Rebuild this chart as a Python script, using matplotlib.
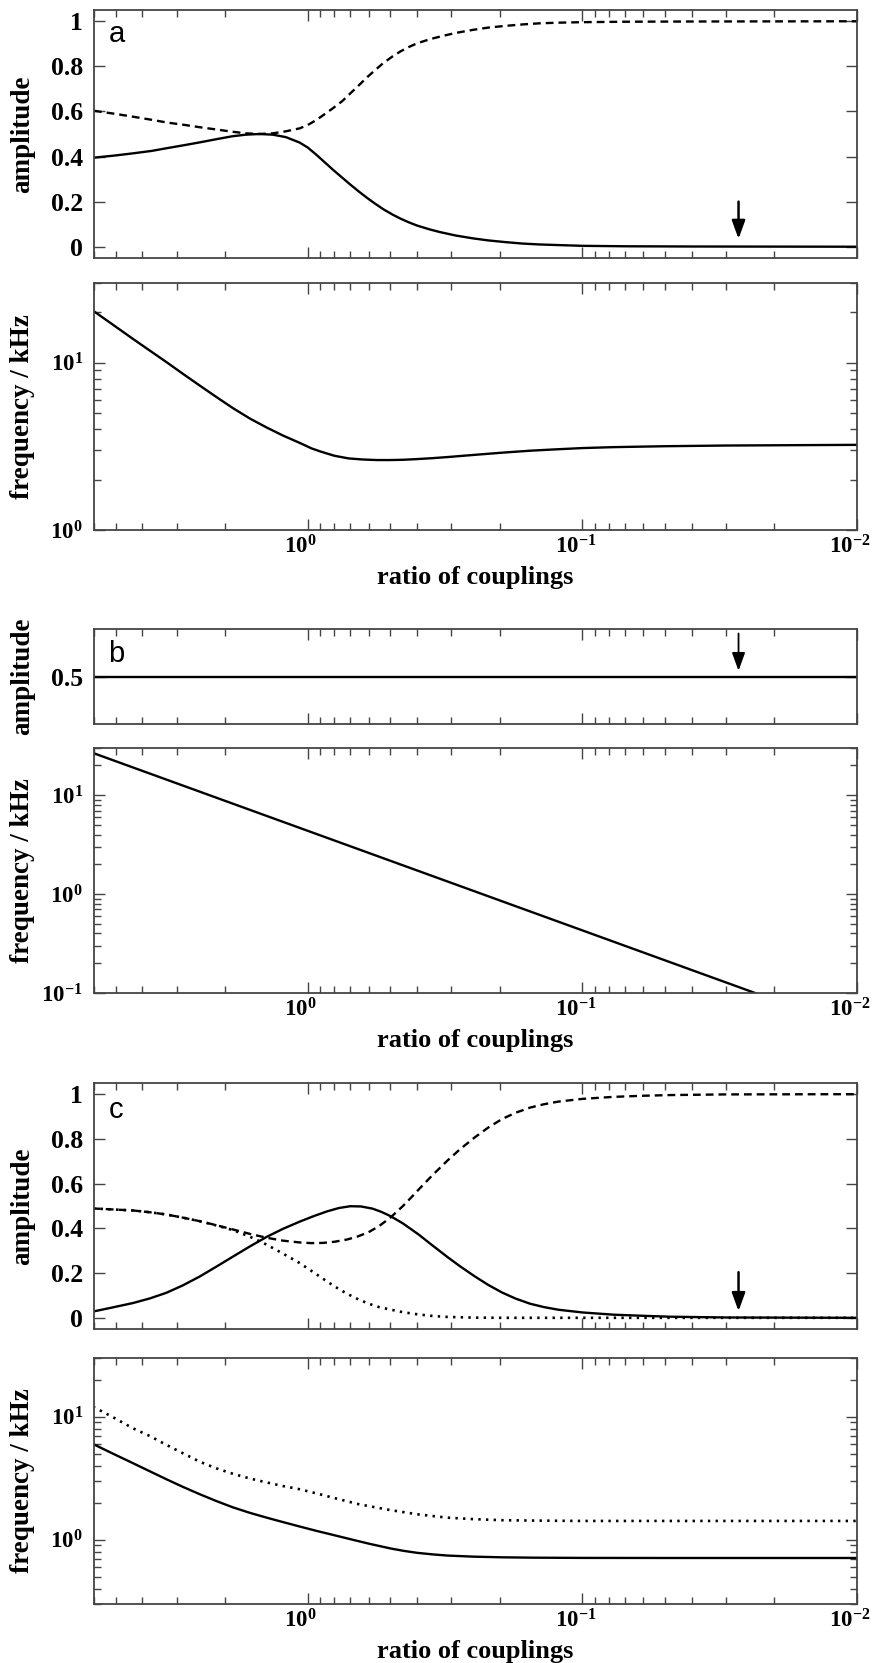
import numpy as np
import matplotlib
matplotlib.use("Agg")
import matplotlib.pyplot as plt
from matplotlib.ticker import FixedLocator, FuncFormatter, LogLocator, NullFormatter
from matplotlib.transforms import ScaledTranslation

plt.rcParams["font.family"] = ["Liberation Serif", "DejaVu Serif"]
plt.rcParams["font.weight"] = "bold"
plt.rcParams["mathtext.fontset"] = "custom"
plt.rcParams["mathtext.rm"] = "Liberation Serif:bold"
plt.rcParams["mathtext.bf"] = "Liberation Serif:bold"
plt.rcParams["mathtext.it"] = "Liberation Serif:bold"

# ============================================================
# Data
# ============================================================

# panel a - amplitudes
A_X = [6.0, 5.0, 4.34, 3.7, 3.26, 2.8, 2.47, 2.15, 1.88, 1.68, 1.5, 1.34, 1.2,
       1.07, 1.0, 0.93, 0.87, 0.81, 0.75, 0.70, 0.65, 0.61, 0.57, 0.53, 0.49,
       0.46, 0.43, 0.40, 0.36, 0.33, 0.29, 0.25, 0.22, 0.189, 0.165, 0.143,
       0.12, 0.1, 0.07, 0.04, 0.01]
A_SOLID = [0.395, 0.405, 0.414, 0.425, 0.437, 0.451, 0.463, 0.477, 0.49, 0.497,
           0.5, 0.497, 0.486, 0.462, 0.440, 0.408, 0.376, 0.342, 0.307, 0.276,
           0.244, 0.218, 0.192, 0.166, 0.142, 0.125, 0.109, 0.094, 0.077,
           0.065, 0.05, 0.037, 0.028, 0.02, 0.014, 0.01, 0.007, 0.004, 0.002,
           0.001, 0.0]
A_DASHED = [0.603, 0.589, 0.577, 0.563, 0.551, 0.54, 0.53, 0.52, 0.51, 0.503,
            0.5, 0.503, 0.512, 0.525, 0.54, 0.562, 0.587, 0.614, 0.645, 0.68,
            0.717, 0.75, 0.782, 0.815, 0.845, 0.866, 0.885, 0.902, 0.92, 0.932,
            0.948, 0.962, 0.972, 0.98, 0.986, 0.991, 0.994, 0.996, 0.998,
            0.999, 1.0]

# panel a - frequency
AF_X = [6.05, 5.2, 4.33, 3.75, 3.27, 2.85, 2.47, 2.15, 1.87, 1.62, 1.41, 1.23,
        1.07, 0.97, 0.9, 0.8, 0.71, 0.63, 0.56, 0.5, 0.45, 0.4, 0.35, 0.31,
        0.25, 0.196, 0.155, 0.123, 0.1, 0.077, 0.05, 0.03, 0.01]
AF = [20.5, 17.2, 13.9, 11.8, 10.1, 8.6, 7.3, 6.24, 5.35, 4.63, 4.1, 3.67,
      3.32, 3.08, 2.95, 2.78, 2.68, 2.64, 2.62, 2.62, 2.63, 2.655, 2.69, 2.73,
      2.81, 2.9, 2.98, 3.04, 3.09, 3.13, 3.17, 3.2, 3.23]

# panel b
B_AMP_X = [6.0, 0.01]
B_AMP = [0.5, 0.5]
B_X = [6.0, 0.0235]
B_F = [26.5, 0.1]

# panel c - amplitudes
C_SOLID_X = [6.05, 5.2, 4.33, 3.75, 3.27, 2.85, 2.47, 2.15, 1.87, 1.62, 1.41,
             1.23, 1.07, 0.95, 0.85, 0.77, 0.70, 0.64, 0.58, 0.54, 0.5, 0.45,
             0.395, 0.35, 0.31, 0.28, 0.247, 0.22, 0.196, 0.175, 0.155, 0.138,
             0.122, 0.1, 0.077, 0.06, 0.048, 0.03, 0.01]
C_SOLID = [0.028, 0.045, 0.066, 0.087, 0.112, 0.145, 0.185, 0.229, 0.274, 0.32,
           0.362, 0.398, 0.43, 0.455, 0.476, 0.491, 0.499, 0.498, 0.488, 0.474,
           0.455, 0.422, 0.373, 0.322, 0.272, 0.232, 0.186, 0.147, 0.113,
           0.086, 0.063, 0.048, 0.036, 0.024, 0.014, 0.009, 0.005, 0.0015, 0.0]
C_DASHED_X = [6.05, 5.2, 4.33, 3.75, 3.27, 2.85, 2.47, 2.15, 1.87, 1.62, 1.41,
              1.23, 1.07, 0.97, 0.88, 0.8, 0.72, 0.66, 0.6, 0.55, 0.5, 0.45,
              0.42, 0.395, 0.35, 0.31, 0.28, 0.247, 0.22, 0.196, 0.175, 0.155,
              0.138, 0.122, 0.1, 0.077, 0.06, 0.048, 0.03, 0.01]
C_DASHED = [0.489, 0.485, 0.48, 0.472, 0.462, 0.448, 0.432, 0.414, 0.395,
            0.375, 0.358, 0.345, 0.337, 0.334, 0.335, 0.34, 0.35, 0.363,
            0.383, 0.41, 0.448, 0.5, 0.538, 0.573, 0.64, 0.703, 0.752, 0.806,
            0.851, 0.889, 0.917, 0.94, 0.955, 0.967, 0.979, 0.988, 0.993,
            0.996, 0.999, 1.0]
C_DOTTED_X = [6.05, 5.2, 4.33, 3.75, 3.27, 2.85, 2.47, 2.15, 1.87, 1.62, 1.41,
              1.23, 1.07, 0.97, 0.88, 0.8, 0.72, 0.66, 0.6, 0.55, 0.5, 0.45,
              0.395, 0.35, 0.31, 0.25, 0.2, 0.01]
C_DOTTED = [0.489, 0.485, 0.48, 0.472, 0.462, 0.448, 0.432, 0.413, 0.392,
            0.362, 0.327, 0.287, 0.245, 0.21, 0.175, 0.141, 0.108, 0.085,
            0.063, 0.048, 0.037, 0.025, 0.015, 0.008, 0.004, 0.001, 0.0, 0.0]

# panel c - frequencies
CF_SOLID_X = [6.05, 5.2, 4.33, 3.75, 3.27, 2.85, 2.47, 2.15, 1.87, 1.62, 1.41,
              1.23, 1.07, 0.93, 0.8, 0.7, 0.6, 0.5, 0.45, 0.4, 0.35, 0.31,
              0.25, 0.196, 0.15, 0.1, 0.05, 0.01]
CF_SOLID = [6.0, 5.09, 4.19, 3.59, 3.1, 2.69, 2.34, 2.06, 1.83, 1.65, 1.51,
            1.39, 1.28, 1.18, 1.087, 1.01, 0.929, 0.849, 0.813, 0.782, 0.759,
            0.743, 0.728, 0.719, 0.714, 0.711, 0.71, 0.71]
CF_DOTTED_X = [6.05, 5.2, 4.33, 3.75, 3.27, 2.85, 2.47, 2.15, 1.87, 1.62, 1.41,
               1.23, 1.07, 0.93, 0.8, 0.65, 0.5, 0.4, 0.31, 0.25, 0.196, 0.15,
               0.1, 0.01]
CF_DOTTED = [12.05, 10.1, 8.05, 6.95, 5.9, 5.05, 4.3, 3.8, 3.43, 3.14, 2.92,
             2.73, 2.57, 2.38, 2.18, 1.94, 1.74, 1.61, 1.51, 1.47, 1.44, 1.43,
             1.42, 1.42]

ARROW_X = 0.027

# ============================================================
# Layout helpers
# ============================================================

W, H = 875, 1663
LEFT, RIGHT = 94, 857
FRAME = "#444444"
LW = 1.7


def add_panel(fig, top, bottom):
    return fig.add_axes([LEFT / W, 1 - bottom / H, (RIGHT - LEFT) / W, (bottom - top) / H])


def pow_label(v, pos):
    return r"$10^{%d}$" % int(round(np.log10(v)))


def style_axes(fig, ax, show_xlabels, log_y=False):
    ax.set_xscale("log")
    ax.set_xlim(6.0, 0.01)
    ax.xaxis.set_major_locator(FixedLocator([1.0, 0.1, 0.01]))
    ax.xaxis.set_minor_locator(LogLocator(base=10, subs=np.arange(2, 10), numticks=30))
    ax.xaxis.set_minor_formatter(NullFormatter())
    if show_xlabels:
        ax.xaxis.set_major_formatter(FuncFormatter(pow_label))
    else:
        ax.xaxis.set_major_formatter(NullFormatter())
    if log_y:
        ax.set_yscale("log")
        ax.yaxis.set_major_locator(LogLocator(base=10, numticks=30))
        ax.yaxis.set_minor_locator(LogLocator(base=10, subs=np.arange(2, 10), numticks=30))
        ax.yaxis.set_minor_formatter(NullFormatter())
        ax.yaxis.set_major_formatter(FuncFormatter(pow_label))
    ax.tick_params(which="both", direction="in", top=True, right=True,
                   color=FRAME, width=1.0)
    ax.tick_params(which="major", length=8)
    ax.tick_params(which="minor", length=5)
    ax.tick_params(axis="x", pad=4, labelsize=16.5)
    ax.tick_params(axis="y", pad=8, labelsize=16.5 if log_y else 18.5)
    for s in ax.spines.values():
        s.set_color(FRAME)
        s.set_linewidth(1.3)
    ax.yaxis.set_label_coords(-0.077, 0.5)
    # labels sit a little left of their ticks in the original
    shift = ScaledTranslation(-7 / 100, 0, fig.dpi_scale_trans)
    for t in ax.xaxis.get_major_ticks():
        t.label1.set_transform(t.label1.get_transform() + shift)


def amp_axes(ax):
    ax.set_ylim(-0.05, 1.05)
    ax.yaxis.set_major_locator(FixedLocator([0, 0.2, 0.4, 0.6, 0.8, 1.0]))
    ax.yaxis.set_major_formatter(FuncFormatter(lambda v, p: "%g" % round(v, 1)))
    ax.set_ylabel("amplitude", fontsize=19.5, fontweight="bold")


def freq_axes(ax, h_px):
    ax.set_ylabel("frequency / kHz", fontsize=19.5, fontweight="bold")
    ax.set_xlabel("ratio of couplings", fontsize=19, fontweight="bold")
    ax.xaxis.set_label_coords(0.5, -36 / h_px)


def arrow(ax, x, y_top, y_tip, lw=1.8):
    ax.annotate("", xy=(x, y_tip), xytext=(x, y_top),
                arrowprops=dict(arrowstyle="-|>,head_length=0.55,head_width=0.2",
                                color="black", lw=lw, mutation_scale=20,
                                shrinkA=0, shrinkB=0))


def letter(ax, s, y):
    ax.text(0.019, y, s, transform=ax.transAxes, fontsize=21, fontweight="normal",
            family=["Liberation Sans", "DejaVu Sans"], va="center", ha="left")


fig = plt.figure(figsize=(W / 100, H / 100), dpi=100)

# ---------------- panel a ----------------
ax = add_panel(fig, 10, 258)
style_axes(fig, ax, False)
amp_axes(ax)
ax.plot(A_X, A_SOLID, color="black", lw=LW)
ax.plot(A_X, A_DASHED, color="black", lw=LW, dashes=(3.3, 2.1))
arrow(ax, ARROW_X, 0.2, 0.035)
letter(ax, "a", 0.905)

ax = add_panel(fig, 283, 530)
style_axes(fig, ax, True, log_y=True)
ax.set_ylim(1.0, 30.0)
freq_axes(ax, 247)
ax.plot(AF_X, AF, color="black", lw=LW)

# ---------------- panel b ----------------
ax = add_panel(fig, 629, 724)
style_axes(fig, ax, False)
ax.set_ylim(0.25, 0.75)
ax.yaxis.set_major_locator(FixedLocator([0.5]))
ax.yaxis.set_major_formatter(FuncFormatter(lambda v, p: "%g" % v))
ax.set_ylabel("amplitude", fontsize=19.5, fontweight="bold")
ax.plot(B_AMP_X, B_AMP, color="black", lw=LW)
arrow(ax, ARROW_X, 0.726, 0.53, lw=1.3)
letter(ax, "b", 0.737)

ax = add_panel(fig, 748, 993)
style_axes(fig, ax, True, log_y=True)
ax.set_ylim(0.1, 30.0)
freq_axes(ax, 245)
ax.plot(B_X, B_F, color="black", lw=LW)

# ---------------- panel c ----------------
ax = add_panel(fig, 1083, 1329)
style_axes(fig, ax, False)
amp_axes(ax)
ax.plot(C_SOLID_X, C_SOLID, color="black", lw=LW)
ax.plot(C_DASHED_X, C_DASHED, color="black", lw=LW, dashes=(3.3, 2.1))
ax.plot(C_DOTTED_X, C_DOTTED, color="black", lw=1.9, dashes=(0.9, 2.0))
arrow(ax, ARROW_X, 0.204, 0.03)
letter(ax, "c", 0.89)

ax = add_panel(fig, 1358, 1604)
style_axes(fig, ax, True, log_y=True)
ax.set_ylim(0.3, 30.0)
freq_axes(ax, 246)
ax.plot(CF_SOLID_X, CF_SOLID, color="black", lw=LW)
ax.plot(CF_DOTTED_X, CF_DOTTED, color="black", lw=1.9, dashes=(0.9, 2.0))

fig.savefig("out.png", dpi=100)
